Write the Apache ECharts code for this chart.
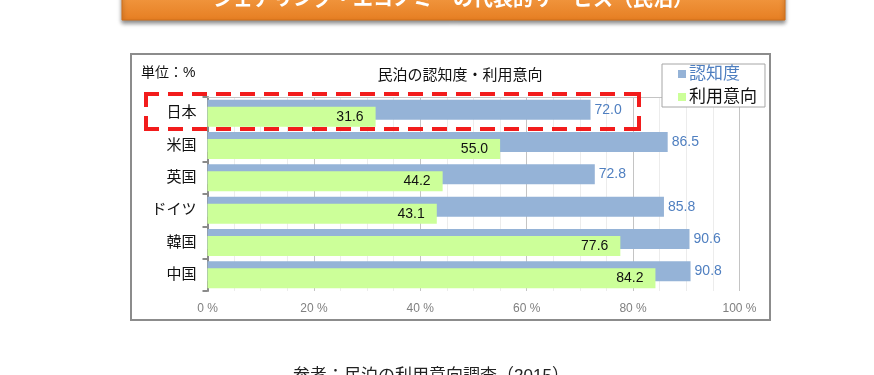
<!DOCTYPE html>
<html>
<head>
<meta charset="utf-8">
<script src="https://cdn.jsdelivr.net/npm/echarts@6/dist/echarts.min.js"></script>
<style>
  html, body { margin: 0; padding: 0; background: #fff; }
  #main { width: 874px; height: 375px; }
</style>
</head>
<body>
<div id="main"></div>
<script>
  var FONT = "'Liberation Sans', 'Noto Sans CJK JP', sans-serif";

  var countries = ['日本', '米国', '英国', 'ドイツ', '韓国', '中国'];
  var awareness = [72.0, 86.5, 72.8, 85.8, 90.6, 90.8];   // 認知度
  var intention = [31.6, 55.0, 44.2, 43.1, 77.6, 84.2];   // 利用意向
  var xTicks = [0, 20, 40, 60, 80, 100];

  // red dashed box round 日本, drawn side by side so every corner gets a dash
  function dashSide(x1, y1, x2, y2) {
    return {
      type: 'line', z: 20,
      shape: { x1: x1, y1: y1, x2: x2, y2: y2 },
      style: { stroke: '#f21c1c', lineWidth: 4, lineDash: [15, 9] }
    };
  }
  var box = { l: 146, t: 94, r: 639, b: 129 };

  var chart = echarts.init(document.getElementById('main'));
  chart.setOption({
    animation: false,
    textStyle: { fontFamily: FONT },
    title: {
      text: '民泊の認知度・利用意向',
      left: 455, top: 63, textAlign: 'center',
      textStyle: { fontSize: 15, fontWeight: 'normal', color: '#111', fontFamily: FONT }
    },
    legend: {
      orient: 'vertical',
      left: 662, top: 64,
      padding: [0, 8, 0, 16],
      itemWidth: 8, itemHeight: 8, itemGap: 3,
      icon: 'rect',
      borderColor: '#a6a6a6', borderWidth: 1,
      backgroundColor: '#fff',
      textStyle: { fontSize: 17, lineHeight: 20, fontFamily: FONT, padding: [0, 0, 0, -2] },
      data: [
        { name: '認知度', textStyle: { color: '#4f7fc0' } },
        { name: '利用意向', textStyle: { color: '#111' } }
      ]
    },
    grid: { left: 207.5, right: 134.5, top: 97, bottom: 84 },
    xAxis: [{
      type: 'value', min: 0, max: 100, interval: 20,
      axisLine: { show: false }, axisTick: { show: false },
      axisLabel: {
        color: '#808080', fontSize: 12, margin: 12, fontFamily: FONT,
        formatter: function (v) { return xTicks.indexOf(v) >= 0 ? v + ' %' : ''; }
      },
      splitLine: { show: true, lineStyle: { color: '#c4c4c4', width: 1 } },
      minorTick: { show: false, splitNumber: 4 },
      minorSplitLine: { show: true, lineStyle: { color: '#ececec', width: 1 } }
    }, {
      type: 'value', min: 0, max: 100, position: 'top',
      axisLine: { show: true, lineStyle: { color: '#c4c4c4', width: 1 } },
      axisTick: { show: false }, axisLabel: { show: false }, splitLine: { show: false }
    }],
    yAxis: {
      type: 'category', data: countries, inverse: true,
      axisLine: { show: true, lineStyle: { color: '#8a8a8a', width: 2 } },
      axisTick: { show: true, inside: false, length: 5, lineStyle: { color: '#8a8a8a', width: 2 } },
      axisLabel: { color: '#111', fontSize: 15, margin: 11, fontFamily: FONT },
      splitLine: { show: false }
    },
    series: [{
      name: '認知度', type: 'bar', xAxisIndex: 0,
      data: awareness, barWidth: 20, barGap: '-65%',
      itemStyle: { color: '#95b3d7' },
      label: {
        show: true, position: 'right', distance: 4,
        color: '#4f7fc0', fontSize: 14, fontFamily: FONT,
        formatter: function (p) { return p.value.toFixed(1); }
      }
    }, {
      name: '利用意向', type: 'bar', xAxisIndex: 0,
      data: intention, barWidth: 20,
      itemStyle: { color: '#ccff99' },
      label: {
        show: true, position: 'insideRight', distance: 12,
        color: '#111', fontSize: 14, fontFamily: FONT,
        formatter: function (p) { return p.value.toFixed(1); }
      }
    }],
    graphic: [
      // orange banner at top (cut off)
      {
        type: 'rect', z: 10,
        shape: { x: 122, y: -12, width: 663, height: 32 },
        style: {
          fill: new echarts.graphic.LinearGradient(0, 0, 0, 1, [
            { offset: 0, color: '#f6a04a' }, { offset: 1, color: '#e67e22' }
          ]),
          stroke: '#d06f18', lineWidth: 1,
          shadowBlur: 4, shadowOffsetY: 3, shadowColor: 'rgba(0,0,0,0.45)'
        }
      },
      {
        type: 'text', z: 11, x: 453, y: 0,
        style: {
          text: 'シェアリング・エコノミーの代表的サービス（民泊）',
          fill: '#fff', font: 'bold 20px ' + FONT,
          textAlign: 'center', textVerticalAlign: 'middle'
        }
      },
      // chart frame
      {
        type: 'rect', z: 0,
        shape: { x: 131, y: 54, width: 639, height: 266 },
        style: { fill: 'none', stroke: '#8c8c8c', lineWidth: 2 }
      },
      {
        type: 'text', z: 5, x: 141, y: 73,
        style: { text: '単位：%', fill: '#111', font: '14px ' + FONT, textVerticalAlign: 'middle' }
      },
      dashSide(box.l - 2, box.t, box.r + 2, box.t),
      dashSide(box.l - 2, box.b, box.r + 2, box.b),
      dashSide(box.l, box.t - 2, box.l, box.b + 2),
      dashSide(box.r, box.t - 2, box.r, box.b + 2),
      {
        type: 'text', z: 5, x: 431, y: 376,
        style: {
          text: '参考：民泊の利用意向調査（2015）', fill: '#222', font: '17px ' + FONT,
          textAlign: 'center', textVerticalAlign: 'middle'
        }
      }
    ]
  });
</script>
</body>
</html>
